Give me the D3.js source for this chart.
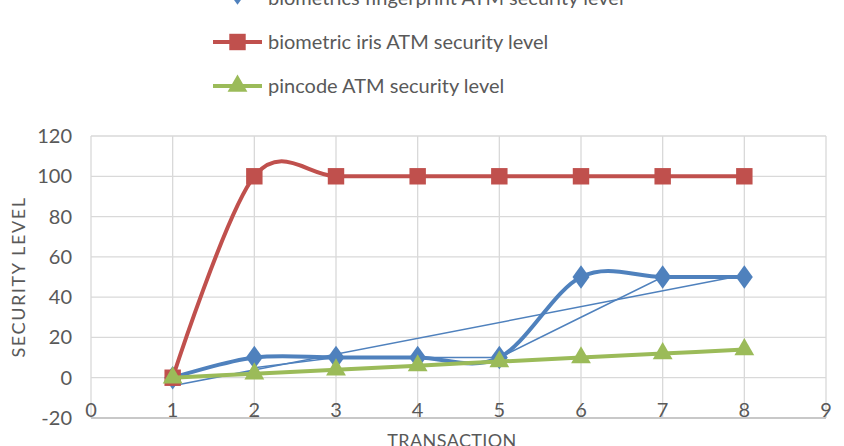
<!DOCTYPE html>
<html>
<head>
<meta charset="utf-8">
<script src="https://cdn.jsdelivr.net/npm/d3@7"></script>
<style>
  body { margin: 0; background: #fff; }
  svg { display: block; font-family: Lato, "Open Sans", sans-serif; }
</style>
</head>
<body>
<div id="chart"></div>
<script>
// data
const transactions = [1, 2, 3, 4, 5, 6, 7, 8];
const fingerprint = [0, 10, 10, 10, 10, 50, 50, 50];
const iris = [0, 100, 100, 100, 100, 100, 100, 100];
const pincode = [0, 2, 4, 6, 8, 10, 12, 14];
// thin fingerprint helper lines (linear trend + 2 point moving average)
const trendX = [1, 8];
const trendY = [-4, 51];
const avgX = [2, 3, 4, 5, 6, 7, 8];
const avgY = [5, 10, 10, 10, 30, 50, 50];
const xTicks = [0, 1, 2, 3, 4, 5, 6, 7, 8, 9];
const yTicks = [-20, 0, 20, 40, 60, 80, 100, 120];

const W = 844, H = 446;
const margin = {top: 136, right: 18, bottom: 28, left: 91};

const svg = d3.select('#chart').append('svg')
  .attr('width', W).attr('height', H);

const x = d3.scaleLinear().domain([0, 9]).range([margin.left, W - margin.right]);
const y = d3.scaleLinear().domain([-20, 120]).range([H - margin.bottom, margin.top]);

const grid = '#d9d9d9';
const textCol = '#595959';

// gridlines
svg.append('g').selectAll('line').data(yTicks.filter(d => d > -20)).join('line')
  .attr('x1', x(0)).attr('x2', x(9))
  .attr('y1', d => y(d)).attr('y2', d => y(d))
  .attr('stroke', grid).attr('stroke-width', 1.3);
svg.append('g').selectAll('line').data(xTicks).join('line')
  .attr('x1', d => x(d)).attr('x2', d => x(d))
  .attr('y1', y(120)).attr('y2', y(-20))
  .attr('stroke', grid).attr('stroke-width', 1.3);

// bottom axis line
svg.append('line')
  .attr('x1', x(0)).attr('x2', x(9))
  .attr('y1', y(-20)).attr('y2', y(-20))
  .attr('stroke', '#c8c8c8').attr('stroke-width', 2);

// tick labels
svg.append('g').selectAll('text').data(yTicks).join('text')
  .attr('x', 72).attr('y', d => y(d))
  .attr('dy', '0.35em')
  .attr('text-anchor', 'end')
  .attr('fill', textCol).attr('font-size', 20)
  .text(d => d);
svg.append('g').selectAll('text').data(xTicks).join('text')
  .attr('x', d => x(d)).attr('y', 410)
  .attr('dy', '0.35em')
  .attr('text-anchor', 'middle')
  .attr('fill', textCol).attr('font-size', 20)
  .text(d => d);

// axis titles
svg.append('text')
  .attr('transform', 'translate(25,' + 277 + ') rotate(-90)')
  .attr('text-anchor', 'middle')
  .attr('fill', textCol).attr('font-size', 18)
  .attr('letter-spacing', 1.6)
  .text('SECURITY LEVEL');
svg.append('text')
  .attr('x', 452).attr('y', 447)
  .attr('text-anchor', 'middle')
  .attr('fill', textCol).attr('font-size', 18)
  .attr('letter-spacing', 0.4)
  .text('TRANSACTION');

const smooth = d3.line()
  .x(d => x(d[0])).y(d => y(d[1]))
  .curve(d3.curveCardinal.tension(0));
const straight = d3.line()
  .x(d => x(d[0])).y(d => y(d[1]));

const series = [
  {name: 'biometrics fingerprint ATM security level', values: fingerprint, color: '#4f81bd', shape: d3.symbolDiamond, size: 160},
  {name: 'biometric iris ATM security level', values: iris, color: '#c0504d', shape: d3.symbolSquare, size: 270},
  {name: 'pincode ATM security level', values: pincode, color: '#9bbb59', shape: d3.symbolTriangle, size: 170}
];

// thin helper lines for fingerprint
svg.append('path')
  .attr('d', straight(trendX.map((d, i) => [d, trendY[i]])))
  .attr('fill', 'none').attr('stroke', '#4f81bd').attr('stroke-width', 1.5);
svg.append('path')
  .attr('d', straight(avgX.map((d, i) => [d, avgY[i]])))
  .attr('fill', 'none').attr('stroke', '#4f81bd').attr('stroke-width', 1.5);

// series lines then markers, drawn in order blue, red, green
series.forEach(s => {
  const pts = transactions.map((t, i) => [t, s.values[i]]);
  svg.append('path')
    .attr('d', smooth(pts))
    .attr('fill', 'none')
    .attr('stroke', s.color).attr('stroke-width', 4)
    .attr('stroke-linejoin', 'round').attr('stroke-linecap', 'round');
  svg.append('g').selectAll('path').data(pts).join('path')
    .attr('transform', d => 'translate(' + x(d[0]) + ',' + y(d[1]) + ')' + (s.shape === d3.symbolDiamond ? ' scale(1.25,1)' : ''))
    .attr('d', d3.symbol().type(s.shape).size(s.size))
    .attr('fill', s.color);
});

// legend (first entry is cut by the top edge, like the reference)
const legend = svg.append('g');
const legY = [-2, 42, 86];
const markY = [-7, 42, 86];
series.forEach((s, i) => {
  legend.append('line')
    .attr('x1', 213).attr('x2', 262)
    .attr('y1', markY[i]).attr('y2', markY[i])
    .attr('stroke', s.color).attr('stroke-width', 4);
  legend.append('path')
    .attr('transform', 'translate(237.5,' + markY[i] + ')' + (s.shape === d3.symbolDiamond ? ' scale(1.25,1)' : ''))
    .attr('d', d3.symbol().type(s.shape).size(s.size))
    .attr('fill', s.color);
  legend.append('text')
    .attr('x', 268).attr('y', legY[i]).attr('dy', '0.35em')
    .attr('fill', textCol).attr('font-size', 20)
    .text(s.name);
});
</script>
</body>
</html>
